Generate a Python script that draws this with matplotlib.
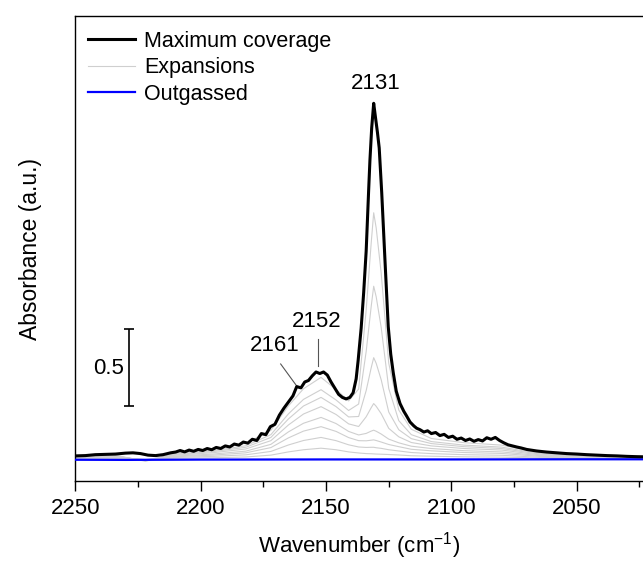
import numpy as np
import matplotlib
matplotlib.use('Agg')
import matplotlib.pyplot as plt

plt.rcParams['font.family'] = ['Liberation Sans', 'DejaVu Sans']

################################################################################
# Datos
# Maxima cobertura (linea negra)
wn_max = [2250, 2246, 2242, 2238, 2234, 2230, 2227, 2224, 2221, 2218, 2215, 2212, 2210,
          2208.2, 2206.4, 2204.6, 2202.8, 2201.0, 2199.2, 2197.4, 2195.6, 2193.8, 2192.0,
          2190.2, 2188.4, 2186.6, 2184.8, 2183.0, 2181.2, 2179.4, 2177.6, 2175.8, 2174.0,
          2172.2, 2170.4, 2168.6, 2166.8, 2165.0, 2163.2, 2161.7, 2160.0, 2158.5, 2157.0,
          2155.5, 2154.0, 2152.5, 2151.0, 2149.5, 2148.0, 2146.5, 2145.0, 2143.5, 2142.0,
          2140.5, 2139.2, 2138.0, 2137.2, 2136.0, 2135.0, 2134.0, 2133.0, 2132.5, 2131.8,
          2131.0, 2130.3, 2129.5, 2128.8, 2127.8, 2126.5, 2125.2, 2124.2, 2123.2, 2122.0,
          2120.5, 2119.0, 2117.9, 2116.5, 2115.0, 2113.9, 2112.5, 2111.0, 2109.5, 2108.0,
          2106.3, 2104.6, 2102.9, 2101.2, 2099.5, 2097.8, 2096.1, 2094.4, 2092.7, 2091.0,
          2089.3, 2087.6, 2085.9, 2084.2, 2082.5, 2080.8, 2079.1, 2077.4, 2075.7, 2074.0,
          2072.3, 2070, 2066, 2062, 2058, 2054, 2050, 2046, 2042, 2038, 2034, 2030, 2026, 2023]
abs_max = [0.020, 0.022, 0.028, 0.030, 0.032, 0.038, 0.040, 0.035, 0.025, 0.022, 0.028, 0.040, 0.045,
           0.055, 0.046, 0.058, 0.050, 0.062, 0.055, 0.068, 0.060, 0.075, 0.068,
           0.085, 0.078, 0.097, 0.090, 0.110, 0.103, 0.128, 0.120, 0.165, 0.158,
           0.210, 0.225, 0.285, 0.330, 0.370, 0.410, 0.470, 0.462, 0.500, 0.510,
           0.540, 0.565, 0.555, 0.565, 0.545, 0.500, 0.460, 0.420, 0.400, 0.390,
           0.400, 0.430, 0.520, 0.640, 0.850, 1.080, 1.350, 1.750, 1.940, 2.150,
           2.310, 2.220, 2.120, 2.020, 1.730, 1.290, 0.860, 0.680, 0.560, 0.440,
           0.360, 0.310, 0.280, 0.240, 0.215, 0.200, 0.190, 0.175, 0.183, 0.165,
           0.172, 0.152, 0.160, 0.140, 0.148, 0.128, 0.136, 0.120, 0.130, 0.115,
           0.126, 0.117, 0.138, 0.128, 0.140, 0.120, 0.105, 0.092, 0.085, 0.078,
           0.072, 0.062, 0.052, 0.045, 0.040, 0.035, 0.032, 0.028, 0.025, 0.022, 0.020, 0.017, 0.015, 0.014]

# Expansiones (lineas grises)
wn_exp = [2250, 2235, 2222, 2210, 2195, 2182, 2172, 2165, 2159, 2152, 2146, 2141, 2137, 2134,
          2132, 2131, 2130, 2128, 2125, 2121, 2116, 2108, 2095, 2080, 2065, 2045, 2023]
exp1 = [0.016, 0.027, -0.015, 0.037, 0.064, 0.101, 0.186, 0.345, 0.456, 0.530, 0.451, 0.377, 0.454, 0.967,
        1.402, 1.599, 1.500, 1.205, 0.622, 0.318, 0.193, 0.133, 0.106, 0.090, 0.042, 0.021, 0.011]
exp2 = [0.014, 0.023, -0.012, 0.032, 0.054, 0.086, 0.158, 0.293, 0.387, 0.450, 0.383, 0.315, 0.357, 0.698,
        0.990, 1.122, 1.053, 0.853, 0.458, 0.249, 0.158, 0.113, 0.090, 0.077, 0.036, 0.018, 0.009]
exp3 = [0.012, 0.020, -0.010, 0.028, 0.048, 0.076, 0.140, 0.260, 0.344, 0.400, 0.340, 0.273, 0.276, 0.444,
        0.592, 0.658, 0.621, 0.514, 0.305, 0.190, 0.132, 0.100, 0.080, 0.068, 0.032, 0.016, 0.008]
exp4 = [0.010, 0.017, -0.008, 0.024, 0.041, 0.065, 0.119, 0.221, 0.292, 0.340, 0.289, 0.228, 0.211, 0.274,
        0.333, 0.360, 0.342, 0.294, 0.199, 0.144, 0.107, 0.085, 0.068, 0.058, 0.027, 0.014, 0.007]
exp5 = [0.008, 0.014, -0.006, 0.019, 0.032, 0.051, 0.095, 0.176, 0.232, 0.270, 0.230, 0.179, 0.156, 0.166,
        0.181, 0.187, 0.180, 0.162, 0.129, 0.105, 0.083, 0.068, 0.054, 0.046, 0.022, 0.011, 0.005]
exp6 = [0.006, 0.011, -0.005, 0.015, 0.025, 0.040, 0.074, 0.137, 0.181, 0.210, 0.179, 0.139, 0.119, 0.118,
        0.122, 0.124, 0.120, 0.110, 0.094, 0.080, 0.063, 0.053, 0.042, 0.036, 0.017, 0.008, 0.004]
exp7 = [0.004, 0.007, -0.004, 0.010, 0.017, 0.027, 0.049, 0.091, 0.120, 0.140, 0.119, 0.092, 0.078, 0.075,
        0.076, 0.076, 0.073, 0.069, 0.060, 0.052, 0.042, 0.035, 0.028, 0.024, 0.011, 0.006, 0.003]
exp8 = [0.002, 0.004, -0.003, 0.005, 0.008, 0.013, 0.025, 0.046, 0.060, 0.070, 0.060, 0.046, 0.039, 0.035,
        0.034, 0.033, 0.032, 0.031, 0.029, 0.026, 0.021, 0.018, 0.014, 0.012, 0.006, 0.003, 0.001]
expansiones = [exp1, exp2, exp3, exp4, exp5, exp6, exp7, exp8]

# Desgasificado (linea azul)
wn_out = [2250, 2230, 2200, 2150, 2100, 2050, 2023]
abs_out = [-0.005, -0.006, -0.004, -0.003, -0.003, -0.002, -0.002]

# Etiquetas de picos
picos = ['2131', '2152', '2161']
################################################################################

fig = plt.figure(figsize=(6.43, 5.63), dpi=100)
ax = fig.add_axes([75.3/643, 1 - 481/563, 1 - 75.3/643, (481 - 16)/563])

# Graficamos las expansiones
for i, e in enumerate(expansiones):
  ax.plot(wn_exp, e, color='#cfcfcf', lw=0.8, label='Expansions' if i == 0 else None, zorder=2)
ax.plot(wn_out, abs_out, color='#0000ff', lw=1.6, label='Outgassed', zorder=3)
ax.plot(wn_max, abs_max, color='black', lw=2.2, label='Maximum coverage', zorder=4)

ax.set_xlim(2250, 2023.6)
ax.set_ylim(-0.143, 2.877)

# Leyenda en el orden de la figura
h, l = ax.get_legend_handles_labels()
orden = [2, 0, 1]
ax.legend([h[k] for k in orden], [l[k] for k in orden], loc='upper left',
          bbox_to_anchor=(0.022, 0.968), frameon=False, fontsize=15.5,
          handlelength=2.2, handletextpad=0.4, labelspacing=0.25,
          borderpad=0, borderaxespad=0)

# Anotaciones
ax.text(2130.1, 2.44, picos[0], fontsize=16, ha='center', va='center')
ax.text(2153.6, 0.896, picos[1], fontsize=16, ha='center', va='center')
ax.plot([2153.4, 2153.4], [0.779, 0.604], color='#555555', lw=0.8)
ax.text(2170.4, 0.734, picos[2], fontsize=16, ha='center', va='center')
ax.plot([2168.1, 2161.7], [0.617, 0.474], color='#555555', lw=0.8)

# Barra de escala
ax.errorbar([2228.7], [0.594], yerr=[0.25], color='black', lw=1.2, capsize=3.4, capthick=1.2)
ax.text(2230.5, 0.59, '0.5', fontsize=16, ha='right', va='center')

# Ejes
ax.spines['right'].set_visible(False)
for s in ['left', 'top', 'bottom']:
  ax.spines[s].set_linewidth(1.0)
ax.set_yticks([])
ax.set_xticks([2250, 2200, 2150, 2100, 2050])
ax.set_xticks(np.arange(2250, 2020, -25), minor=True)
ax.tick_params(axis='x', which='major', length=7.2, width=1.0, labelsize=16, pad=5)
ax.tick_params(axis='x', which='minor', length=4, width=1.0)
ax.set_xlabel('Wavenumber (cm$^{\\mathregular{-1}}$)', fontsize=16, labelpad=8)
ax.set_ylabel('Absorbance (a.u.)', fontsize=16.5, labelpad=24)

fig.savefig('out.png', dpi=100)
